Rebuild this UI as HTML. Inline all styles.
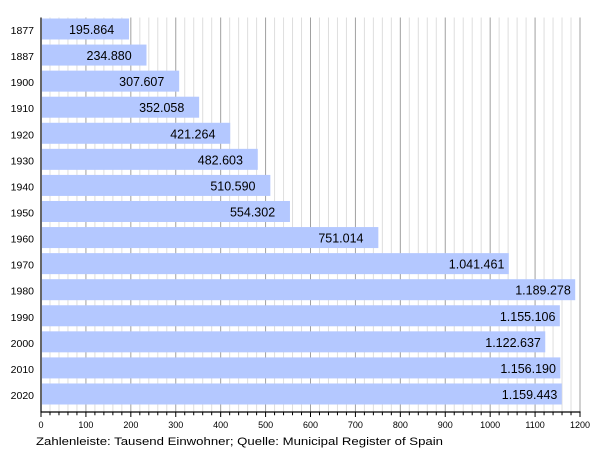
<!DOCTYPE html>
<html><head><meta charset="utf-8"><style>
html,body{margin:0;padding:0;background:#fff;}
svg{display:block;}
text{font-family:"Liberation Sans",Arial,sans-serif;fill:#000;}
</style></head><body>
<svg width="600" height="450" viewBox="0 0 600 450" xmlns="http://www.w3.org/2000/svg">
<path fill="none" stroke="#dedede" stroke-width="1" d="M49.98 17.5V412M58.97 17.5V412M67.95 17.5V412M76.93 17.5V412M94.9 17.5V412M103.88 17.5V412M112.87 17.5V412M121.85 17.5V412M139.82 17.5V412M148.8 17.5V412M157.78 17.5V412M166.77 17.5V412M184.73 17.5V412M193.72 17.5V412M202.7 17.5V412M211.68 17.5V412M229.65 17.5V412M238.63 17.5V412M247.62 17.5V412M256.6 17.5V412M274.57 17.5V412M283.55 17.5V412M292.53 17.5V412M301.52 17.5V412M319.48 17.5V412M328.47 17.5V412M337.45 17.5V412M346.43 17.5V412M364.4 17.5V412M373.38 17.5V412M382.37 17.5V412M391.35 17.5V412M409.32 17.5V412M418.3 17.5V412M427.28 17.5V412M436.27 17.5V412M454.23 17.5V412M463.22 17.5V412M472.2 17.5V412M481.18 17.5V412M499.15 17.5V412M508.13 17.5V412M517.12 17.5V412M526.1 17.5V412M544.07 17.5V412M553.05 17.5V412M562.03 17.5V412M571.02 17.5V412"/>
<path fill="none" stroke="#a0a0a0" stroke-width="1" d="M85.92 17.5V412M130.83 17.5V412M175.75 17.5V412M220.67 17.5V412M265.58 17.5V412M310.5 17.5V412M355.42 17.5V412M400.33 17.5V412M445.25 17.5V412M490.17 17.5V412M535.08 17.5V412M580 17.5V412"/>

<g fill="#b4c8ff">
<rect x="42" y="18.5" width="86.98" height="21"/>
<rect x="42" y="44.57" width="104.5" height="21"/>
<rect x="42" y="70.64" width="137.17" height="21"/>
<rect x="42" y="96.71" width="157.13" height="21"/>
<rect x="42" y="122.78" width="188.22" height="21"/>
<rect x="42" y="148.85" width="215.77" height="21"/>
<rect x="42" y="174.92" width="228.34" height="21"/>
<rect x="42" y="200.99" width="247.97" height="21"/>
<rect x="42" y="227.06" width="336.33" height="21"/>
<rect x="42" y="253.13" width="466.79" height="21"/>
<rect x="42" y="279.2" width="533.19" height="21"/>
<rect x="42" y="305.27" width="517.84" height="21"/>
<rect x="42" y="331.34" width="503.25" height="21"/>
<rect x="42" y="357.41" width="518.33" height="21"/>
<rect x="42" y="383.48" width="519.78" height="21"/>
</g>

<g font-size="12.5">
<text x="68.98" y="34">195.864</text>
<text x="86.5" y="60.07">234.880</text>
<text x="119.17" y="86.14">307.607</text>
<text x="139.13" y="112.21">352.058</text>
<text x="170.22" y="138.28">421.264</text>
<text x="197.77" y="164.35">482.603</text>
<text x="210.34" y="190.42">510.590</text>
<text x="229.97" y="216.49">554.302</text>
<text x="318.33" y="242.56">751.014</text>
<text x="448.79" y="268.63">1.041.461</text>
<text x="515.19" y="294.7">1.189.278</text>
<text x="499.84" y="320.77">1.155.106</text>
<text x="485.25" y="346.84">1.122.637</text>
<text x="500.33" y="372.91">1.156.190</text>
<text x="501.78" y="398.98">1.159.443</text>
</g>

<g font-size="10.5" text-anchor="end">
<text x="34" y="34">1877</text>
<text x="34" y="60.07">1887</text>
<text x="34" y="86.14">1900</text>
<text x="34" y="112.21">1910</text>
<text x="34" y="138.28">1920</text>
<text x="34" y="164.35">1930</text>
<text x="34" y="190.42">1940</text>
<text x="34" y="216.49">1950</text>
<text x="34" y="242.56">1960</text>
<text x="34" y="268.63">1970</text>
<text x="34" y="294.7">1980</text>
<text x="34" y="320.77">1990</text>
<text x="34" y="346.84">2000</text>
<text x="34" y="372.91">2010</text>
<text x="34" y="398.98">2020</text>
</g>

<path fill="none" stroke="#000" stroke-width="1.2" d="M41 17.5V412.6M40.4 412H580.6"/>
<path fill="none" stroke="#000" stroke-width="1" d="M49.98 412v3.2M58.97 412v3.2M67.95 412v3.2M76.93 412v3.2M94.9 412v3.2M103.88 412v3.2M112.87 412v3.2M121.85 412v3.2M139.82 412v3.2M148.8 412v3.2M157.78 412v3.2M166.77 412v3.2M184.73 412v3.2M193.72 412v3.2M202.7 412v3.2M211.68 412v3.2M229.65 412v3.2M238.63 412v3.2M247.62 412v3.2M256.6 412v3.2M274.57 412v3.2M283.55 412v3.2M292.53 412v3.2M301.52 412v3.2M319.48 412v3.2M328.47 412v3.2M337.45 412v3.2M346.43 412v3.2M364.4 412v3.2M373.38 412v3.2M382.37 412v3.2M391.35 412v3.2M409.32 412v3.2M418.3 412v3.2M427.28 412v3.2M436.27 412v3.2M454.23 412v3.2M463.22 412v3.2M472.2 412v3.2M481.18 412v3.2M499.15 412v3.2M508.13 412v3.2M517.12 412v3.2M526.1 412v3.2M544.07 412v3.2M553.05 412v3.2M562.03 412v3.2M571.02 412v3.2M41 412v5M85.92 412v5M130.83 412v5M175.75 412v5M220.67 412v5M265.58 412v5M310.5 412v5M355.42 412v5M400.33 412v5M445.25 412v5M490.17 412v5M535.08 412v5M580 412v5"/>

<g font-size="9" text-anchor="middle">
<text x="41" y="428">0</text>
<text x="85.92" y="428">100</text>
<text x="130.83" y="428">200</text>
<text x="175.75" y="428">300</text>
<text x="220.67" y="428">400</text>
<text x="265.58" y="428">500</text>
<text x="310.5" y="428">600</text>
<text x="355.42" y="428">700</text>
<text x="400.33" y="428">800</text>
<text x="445.25" y="428">900</text>
<text x="490.17" y="428">1000</text>
<text x="535.08" y="428">1100</text>
<text x="580" y="428">1200</text>
</g>

<text x="36" y="445" font-size="11" textLength="407" lengthAdjust="spacingAndGlyphs">Zahlenleiste: Tausend Einwohner; Quelle: Municipal Register of Spain</text>
</svg>
</body></html>
